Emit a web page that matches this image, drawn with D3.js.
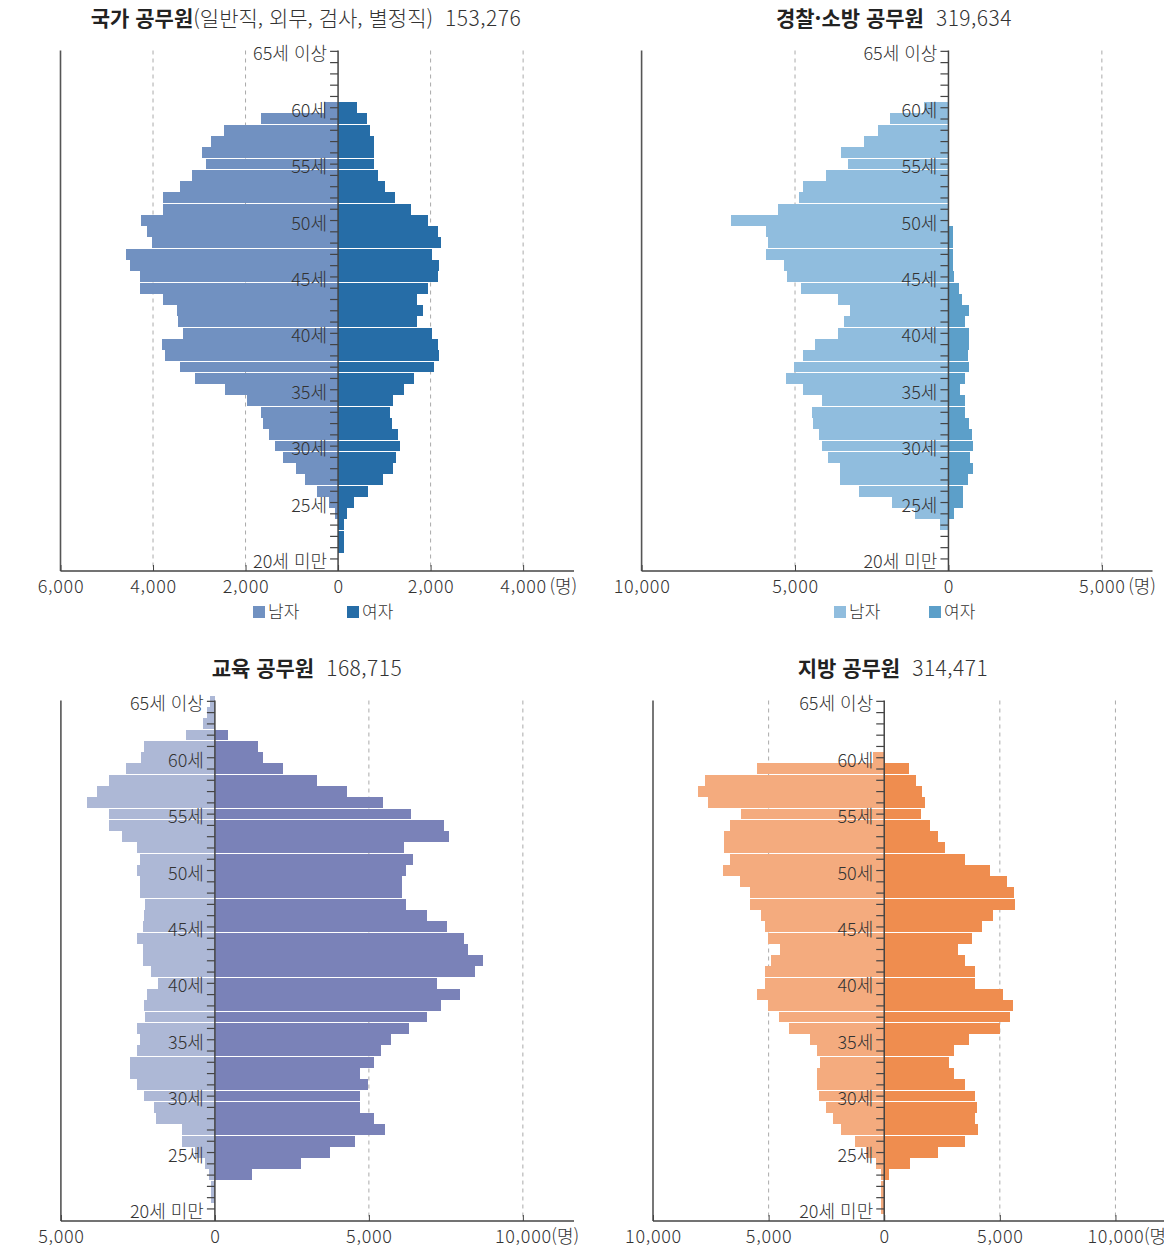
<!DOCTYPE html>
<html lang="ko">
<head>
<meta charset="utf-8">
<script src="https://cdn.jsdelivr.net/npm/d3@7"></script>
<style>
    body { margin: 0; background: #fff; }
    svg { display: block; font-family: "Noto Sans CJK KR", "Noto Sans", sans-serif; }
</style>
</head>
<body>
<svg id="chart" width="1164" height="1252"></svg>
<script>
// 연령 구간 (위 -> 아래)
const ages = ['65세 이상', '64세', '63세', '62세', '61세', '60세', '59세', '58세', '57세', '56세',
    '55세', '54세', '53세', '52세', '51세', '50세', '49세', '48세', '47세', '46세',
    '45세', '44세', '43세', '42세', '41세', '40세', '39세', '38세', '37세', '36세',
    '35세', '34세', '33세', '32세', '31세', '30세', '29세', '28세', '27세', '26세',
    '25세', '24세', '23세', '22세', '21세', '20세 미만'];
const ageTicks = ['65세 이상', '60세', '55세', '50세', '45세', '40세', '35세', '30세', '25세', '20세 미만'];

// 국가 공무원
const gukgaMale = [0, 0, 0, 0, 0, 300, 1660, 2460, 2740, 2940,
    2850, 3160, 3420, 3790, 3790, 4270, 4130, 4030, 4590, 4490,
    4280, 4280, 3790, 3480, 3460, 3350, 3810, 3750, 3420, 3090,
    2440, 1960, 1670, 1630, 1500, 1370, 1180, 920, 720, 460,
    200, 70, 0, 0, 0, 0];
const gukgaFemale = [0, 0, 0, 0, 0, 420, 620, 690, 780, 780,
    780, 860, 1010, 1230, 1580, 1950, 2150, 2230, 2030, 2190,
    2150, 1950, 1710, 1840, 1710, 2030, 2170, 2190, 2080, 1650,
    1430, 1190, 1130, 1170, 1300, 1340, 1250, 1190, 970, 640,
    350, 190, 130, 130, 130, 0];

// 경찰·소방 공무원
const policeMale = [0, 0, 0, 0, 0, 790, 1900, 2290, 2760, 3490,
    3280, 3980, 4750, 4880, 5560, 7100, 5930, 5870, 5960, 5370,
    5270, 4790, 3610, 3220, 3420, 3590, 4360, 4750, 5040, 5310,
    4750, 4130, 4460, 4400, 4210, 4130, 3940, 3550, 3550, 2930,
    1830, 1080, 270, 0, 0, 0];
const policeFemale = [0, 0, 0, 0, 0, 0, 0, 0, 0, 0,
    0, 0, 0, 0, 0, 0, 160, 160, 160, 160,
    180, 330, 440, 670, 530, 670, 670, 630, 670, 530,
    380, 530, 530, 670, 760, 800, 700, 800, 630, 470,
    470, 180, 0, 0, 0, 0];

// 교육 공무원
const eduMale = [150, 250, 390, 940, 2310, 2410, 2900, 3450, 3840, 4140,
    3450, 3450, 3030, 2530, 2440, 2530, 2440, 2440, 2280, 2310,
    2340, 2530, 2340, 2340, 2080, 1860, 2210, 2310, 2280, 2530,
    2440, 2530, 2760, 2760, 2530, 2310, 1980, 1920, 1080, 1060,
    650, 320, 195, 130, 120, 0];
const eduFemale = [0, 0, 0, 430, 1410, 1570, 2220, 3330, 4280, 5460,
    6370, 7450, 7600, 6140, 6430, 6200, 6070, 6070, 6200, 6890,
    7540, 8100, 8230, 8690, 8460, 7220, 7970, 7350, 6890, 6300,
    5720, 5400, 5170, 4710, 4960, 4710, 4710, 5170, 5520, 4540,
    3730, 2780, 1190, 0, 0, 0];

// 지방 공무원
const localMale = [0, 0, 0, 0, 0, 500, 5500, 7770, 8040, 7600,
    6210, 6680, 6940, 6940, 6680, 6990, 6240, 5820, 5820, 5320,
    5160, 5040, 4500, 4890, 5160, 5160, 5500, 5040, 4550, 4110,
    3210, 2890, 2770, 2890, 2890, 2810, 2500, 2200, 1870, 1250,
    800, 360, 130, 160, 160, 130];
const localFemale = [0, 0, 0, 0, 0, 0, 1090, 1360, 1630, 1750,
    1580, 1970, 2310, 2630, 3490, 4580, 5320, 5610, 5660, 4710,
    4220, 3800, 3190, 3490, 3920, 3920, 5140, 5580, 5440, 5000,
    3660, 3020, 2800, 3020, 3490, 3920, 4020, 3920, 4050, 3490,
    2320, 1100, 190, 0, 0, 0];

// 패널 설정
const panels = [
    { title: '국가 공무원', sub: '(일반직, 외무, 검사, 별정직)', total: '153,276',
      male: gukgaMale, female: gukgaFemale, colors: ['#7191c1', '#266da7'],
      oy: 0, cx: 306, left: 60.5, right: 574, domain: [-6000, 5100],
      ticks: [-6000, -4000, -2000, 0, 2000, 4000], grid: [-4000, -2000, 2000, 4000],
      unitGap: 3, legend: [253, 347] },
    { title: '경찰·소방 공무원', sub: '', total: '319,634',
      male: policeMale, female: policeFemale, colors: ['#90bdde', '#5c9fc9'],
      oy: 0, cx: 894, left: 641.6, right: 1152.5, domain: [-10000, 6650],
      ticks: [-10000, -5000, 0, 5000], grid: [-5000, 5000],
      unitGap: 3, legend: [834, 929] },
    { title: '교육 공무원', sub: '', total: '168,715',
      male: eduMale, female: eduFemale, colors: ['#adb8d6', '#7a82b8'],
      oy: 650, cx: 307, left: 60.9, right: 574, domain: [-5000, 11660],
      ticks: [-5000, 0, 5000, 10000], grid: [5000, 10000],
      unitGap: 0, legend: null },
    { title: '지방 공무원', sub: '', total: '314,471',
      male: localMale, female: localFemale, colors: ['#f4ab7e', '#ef8d4f'],
      oy: 650, cx: 893, left: 653, right: 1164, domain: [-10000, 12100],
      ticks: [-10000, -5000, 0, 5000, 10000], grid: [-5000, 5000, 10000],
      unitGap: 0, legend: null }
];

const svg = d3.select('#chart');
const fmt = d3.format(',');
const textColor = '#333';
const axisColor = '#444';

function drawPanel(p) {
    const g = svg.append('g');
    const top = p.oy + 50.5;
    const bottom = p.oy + 571;

    const x = d3.scaleLinear().domain(p.domain).range([p.left, p.right]);
    const y = d3.scaleBand().domain(ages).range([p.oy + 45.7, p.oy + 45.7 + 11.28 * ages.length]);
    const x0 = x(0);

    // 제목
    const title = g.append('text')
        .attr('x', p.cx).attr('y', p.oy + 26)
        .attr('text-anchor', 'middle')
        .attr('font-size', 21)
        .attr('fill', '#222');
    title.append('tspan').attr('font-weight', 700).text(p.title);
    if (p.sub) title.append('tspan').attr('fill', textColor).attr('font-weight', 300).text(p.sub);
    title.append('tspan').attr('dx', 12).attr('fill', textColor).attr('font-weight', 300)
        .attr('letter-spacing', 0.5).text(p.total);

    // 격자선
    g.selectAll('line.grid')
        .data(p.grid)
        .enter().append('line')
        .attr('x1', d => x(d)).attr('x2', d => x(d))
        .attr('y1', top).attr('y2', bottom)
        .attr('stroke', '#aaa')
        .attr('stroke-dasharray', '4,4');

    const rows = ages.map((a, i) => ({ age: a, m: p.male[i], f: p.female[i] }));
    const h = y.bandwidth() - 0.35;

    // 남자
    g.selectAll('rect.m')
        .data(rows.filter(d => d.m > 0))
        .enter().append('rect')
        .attr('x', d => x(-d.m))
        .attr('width', d => x0 - x(-d.m))
        .attr('y', d => y(d.age))
        .attr('height', h)
        .attr('fill', p.colors[0])
        .attr('shape-rendering', 'crispEdges');

    // 여자
    g.selectAll('rect.f')
        .data(rows.filter(d => d.f > 0))
        .enter().append('rect')
        .attr('x', x0)
        .attr('width', d => x(d.f) - x0)
        .attr('y', d => y(d.age))
        .attr('height', h)
        .attr('fill', p.colors[1])
        .attr('shape-rendering', 'crispEdges');

    // 왼쪽 축
    g.append('line')
        .attr('x1', p.left).attr('x2', p.left)
        .attr('y1', top).attr('y2', bottom)
        .attr('stroke', '#555').attr('stroke-width', 1.6);

    // 아래 축
    const xAxis = g.append('g')
        .attr('transform', `translate(0,${bottom})`)
        .call(d3.axisBottom(x).tickValues(p.ticks).tickSize(-6).tickSizeOuter(0)
            .tickFormat(d => fmt(Math.abs(d))));
    xAxis.select('.domain').attr('stroke', axisColor).attr('stroke-width', 1.6)
        .attr('d', `M${p.left},0H${p.right}`);
    xAxis.selectAll('.tick line').attr('stroke', axisColor);
    xAxis.selectAll('.tick text')
        .attr('y', 22).attr('dy', 0)
        .attr('font-size', 18)
        .attr('font-weight', 300)
        .attr('letter-spacing', 0.7)
        .attr('font-family', '"Noto Sans CJK KR", sans-serif')
        .attr('fill', textColor);

    // 단위 (마지막 눈금 글자 바로 뒤)
    const last = p.ticks[p.ticks.length - 1];
    const lastText = xAxis.selectAll('.tick text').filter(d => d === last).node();
    const lastBox = lastText.getBBox();
    g.append('text')
        .attr('x', x(last) + lastBox.x + lastBox.width + p.unitGap).attr('y', bottom + 22)
        .attr('font-size', 18)
        .attr('font-weight', 300)
        .attr('fill', textColor)
        .text('(명)');

    // 가운데 축
    const yc = d => y(d) + y.bandwidth() / 2;
    g.selectAll('line.yt')
        .data(ages)
        .enter().append('line')
        .attr('x1', x0 - 8).attr('x2', x0)
        .attr('y1', d => yc(d)).attr('y2', d => yc(d))
        .attr('stroke', axisColor).attr('stroke-width', 1.2);
    g.append('line')
        .attr('x1', x0).attr('x2', x0)
        .attr('y1', top).attr('y2', bottom)
        .attr('stroke', axisColor).attr('stroke-width', 1.5);

    g.selectAll('text.age')
        .data(ageTicks)
        .enter().append('text')
        .attr('x', x0 - 11)
        .attr('y', d => yc(d) + 9)
        .attr('text-anchor', 'end')
        .attr('font-size', 18)
        .attr('font-weight', 300)
        .attr('fill', textColor)
        .text(d => d);

    // 범례
    if (p.legend) {
        const labels = ['남자', '여자'];
        labels.forEach((l, i) => {
            g.append('rect')
                .attr('x', p.legend[i]).attr('y', p.oy + 606)
                .attr('width', 12).attr('height', 12)
                .attr('fill', p.colors[i]);
            g.append('text')
                .attr('x', p.legend[i] + 15).attr('y', p.oy + 618)
                .attr('font-size', 17)
                .attr('font-weight', 300)
                .attr('fill', textColor)
                .text(l);
        });
    }
}

panels.forEach(drawPanel);
</script>
</body>
</html>
